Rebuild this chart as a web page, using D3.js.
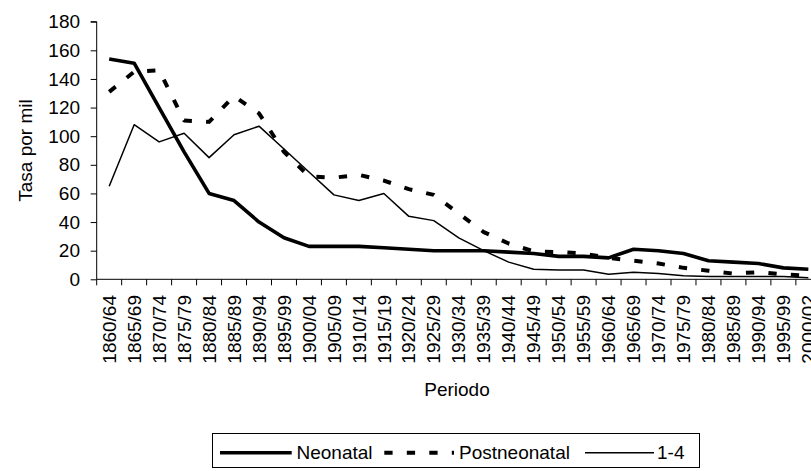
<!DOCTYPE html>
<html>
<head>
<meta charset="utf-8">
<script src="https://cdn.jsdelivr.net/npm/d3@7"></script>
<style>
  html, body { margin: 0; padding: 0; background: #fff; }
  svg { display: block; }
  text { font-family: "Liberation Sans", Arial, sans-serif; fill: #000; }
</style>
</head>
<body>
<svg id="chart" width="811" height="471"></svg>
<script>
// Periods (five-year groups, last one shorter)
const categories = [
  "1860/64","1865/69","1870/74","1875/79","1880/84","1885/89","1890/94","1895/99",
  "1900/04","1905/09","1910/14","1915/19","1920/24","1925/29","1930/34","1935/39",
  "1940/44","1945/49","1950/54","1955/59","1960/64","1965/69","1970/74","1975/79",
  "1980/84","1985/89","1990/94","1995/99","2000/02"
];

// Rates per thousand
const neonatal = [154,151,120,89,60,55,40,29,23,23,23,22,21,20,20,20,19,18,16,16,15,21,20,18,13,12,11,8,7];
const postneonatal = [131,145,146,111,110,128,116,89,72,71,73,69,63,59,46,33,25,19.5,19,18,15,13,11,8,6,4,5,3.5,2.5];
const edad1a4 = [65,108,96,102,85,101,107,91,75,59,55,60,44,41,29,20,12,7,6.5,6.5,3.5,5,4,2.5,2,2,2,2,1];

const yTicks = [0,20,40,60,80,100,120,140,160,180];

const seriesNames = ["Neonatal", "Postneonatal", "1-4"];

const svg = d3.select("#chart");
const FONT = 19;

const plotLeft = 96.7, plotTop = 21.7, plotBottom = 279.3;
const step = 24.97;
const plotRight = plotLeft + step * categories.length;

const x = d3.scaleBand().domain(categories).range([plotLeft, plotRight]).padding(0);
const y = d3.scaleLinear().domain([0, 180]).range([plotBottom, plotTop]);
const cx = c => x(c) + x.bandwidth() / 2;

// Y axis
const yAxis = svg.append("g")
  .attr("transform", `translate(${plotLeft},0)`)
  .call(d3.axisLeft(y).tickValues(yTicks).tickSize(6).tickPadding(10.7).tickFormat(d3.format("d")));
yAxis.selectAll("text").style("font-size", FONT + "px").attr("fill", "#000");
yAxis.selectAll("line").attr("stroke", "#000");
yAxis.select(".domain").attr("stroke", "#000").attr("d", `M-6,${plotTop}H0V${plotBottom}`);

// X axis: ticks sit on category boundaries, labels centred in each band
const xg = svg.append("g").attr("transform", `translate(0,${plotBottom})`);
xg.append("line").attr("x1", plotLeft).attr("x2", plotRight).attr("y1", 0).attr("y2", 0).attr("stroke", "#000");
const bounds = categories.map(c => x(c)).concat([plotRight]);
xg.selectAll("line.tk").data(bounds).join("line")
  .attr("class", "tk")
  .attr("x1", d => d).attr("x2", d => d)
  .attr("y1", 0).attr("y2", 6)
  .attr("stroke", "#000");
xg.selectAll("text.lbl").data(categories).join("text")
  .attr("class", "lbl")
  .attr("transform", d => `translate(${cx(d)},${15.7}) rotate(-90)`)
  .attr("text-anchor", "end")
  .attr("dy", "0.35em")
  .style("font-size", FONT + "px")
  .text(d => d);

// Axis titles
svg.append("text")
  .attr("transform", `translate(31.5,${(plotTop + plotBottom) / 2}) rotate(-90)`)
  .attr("text-anchor", "middle")
  .style("font-size", FONT + "px")
  .text("Tasa por mil");

svg.append("text")
  .attr("x", 457).attr("y", 396)
  .attr("text-anchor", "middle")
  .style("font-size", FONT + "px")
  .text("Periodo");

// Series lines
const styles = [
  { data: neonatal, width: 3.6, dash: null },
  { data: postneonatal, width: 4, dash: "8.3,14.2" },
  { data: edad1a4, width: 1.5, dash: null }
];

const line = d3.line()
  .x((d, i) => cx(categories[i]))
  .y(d => y(d));

const plot = svg.append("g");
styles.forEach(s => {
  plot.append("path")
    .datum(s.data)
    .attr("d", line)
    .attr("fill", "none")
    .attr("stroke", "#000")
    .attr("stroke-width", s.width)
    .attr("stroke-linejoin", "round")
    .attr("stroke-dasharray", s.dash);
});

// Legend
const lg = svg.append("g");
lg.append("rect")
  .attr("x", 212.5).attr("y", 433.5)
  .attr("width", 487).attr("height", 34)
  .attr("fill", "#fff").attr("stroke", "#000").attr("stroke-width", 1);

const legendItems = [
  { x1: 220, x2: 291.7, tx: 296.5 },
  { x1: 384.3, x2: 454, tx: 459 },
  { x1: 585, x2: 654, tx: 657 }
];
legendItems.forEach((it, i) => {
  const s = styles[i];
  lg.append("line")
    .attr("x1", it.x1).attr("x2", it.x2)
    .attr("y1", 452.7).attr("y2", 452.7)
    .attr("stroke", "#000")
    .attr("stroke-width", s.width)
    .attr("stroke-dasharray", s.dash);
  lg.append("text")
    .attr("x", it.tx).attr("y", 452.7)
    .attr("dy", "0.35em")
    .style("font-size", FONT + "px")
    .text(seriesNames[i]);
});
</script>
</body>
</html>
